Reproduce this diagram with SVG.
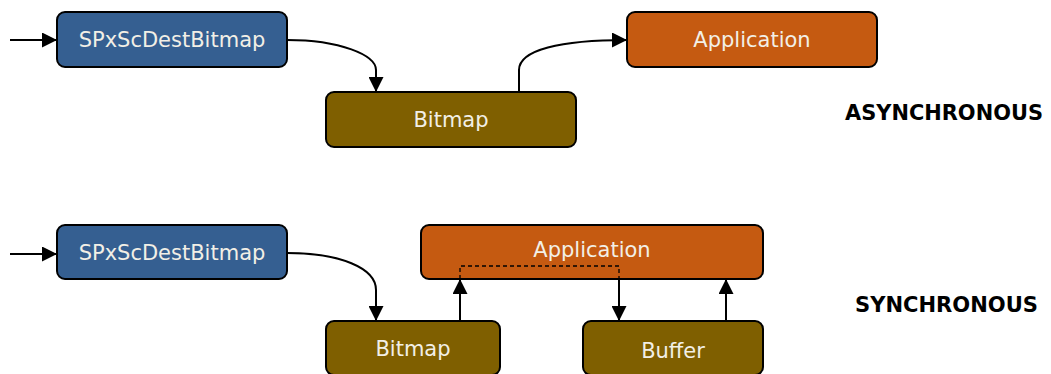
<svg xmlns="http://www.w3.org/2000/svg" width="1051" height="374" viewBox="0 0 1051 374">
<style>
.box{stroke:#000;stroke-width:2}
.blue{fill:#355f91}.brown{fill:#7f5f00}.orange{fill:#c55a11}
.lbl{font-family:"DejaVu Sans",Verdana,sans-serif;font-size:21px;fill:#f2efe6;text-anchor:middle;dominant-baseline:central}
.title{font-family:"DejaVu Sans",Verdana,sans-serif;font-size:21px;font-weight:bold;fill:#000;dominant-baseline:central}
.c{fill:none;stroke:#000;stroke-width:2}
.d{fill:none;stroke:#000;stroke-width:1.3;stroke-dasharray:4,3}
</style>
<defs>
<marker id="a" viewBox="0 0 10 10" refX="10" refY="5" markerWidth="15" markerHeight="15" markerUnits="userSpaceOnUse" orient="auto"><path d="M0,0L10,5L0,10z" fill="#000"/></marker>
</defs>
<g id="n1"><rect class="box blue" x="57" y="12" width="230" height="55" rx="8"/><text class="lbl" x="172" y="40">SPxScDestBitmap</text></g>
<g id="n2"><rect class="box brown" x="326" y="92" width="250" height="55" rx="8"/><text class="lbl" x="451" y="120">Bitmap</text></g>
<g id="n3"><rect class="box orange" x="627" y="12" width="250" height="55" rx="8"/><text class="lbl" x="752" y="40">Application</text></g>
<g id="t1"><text class="title" x="845" y="113" textLength="198" lengthAdjust="spacingAndGlyphs">ASYNCHRONOUS</text></g>
<g id="n4"><rect class="box blue" x="57" y="225" width="230" height="54" rx="8"/><text class="lbl" x="172" y="253">SPxScDestBitmap</text></g>
<g id="n5"><rect class="box orange" x="421" y="225" width="342" height="54" rx="8"/><text class="lbl" x="592" y="250">Application</text></g>
<g id="n6"><rect class="box brown" x="326" y="321" width="174" height="54" rx="8"/><text class="lbl" x="413" y="349">Bitmap</text></g>
<g id="n7"><rect class="box brown" x="583" y="321" width="180" height="54" rx="8"/><text class="lbl" x="673" y="351">Buffer</text></g>
<g id="t2"><text class="title" x="855" y="305" textLength="183" lengthAdjust="spacingAndGlyphs">SYNCHRONOUS</text></g>
<g id="connectors">
<path class="c" d="M10,40H57" marker-end="url(#a)"/>
<path class="c" d="M287,40C340,40 376,55 376,70V92" marker-end="url(#a)"/>
<path class="c" d="M519,92V70C519,50 560,40 627,40" marker-end="url(#a)"/>
<path class="c" d="M10,254H57" marker-end="url(#a)"/>
<path class="c" d="M287,253C340,253 376,268 376,290V321" marker-end="url(#a)"/>
<path class="c" d="M460,321V279" marker-end="url(#a)"/>
<path class="d" d="M460,279V266H619V279"/>
<path class="c" d="M619,279V321" marker-end="url(#a)"/>
<path class="c" d="M726,321V279" marker-end="url(#a)"/>
</g>
</svg>
